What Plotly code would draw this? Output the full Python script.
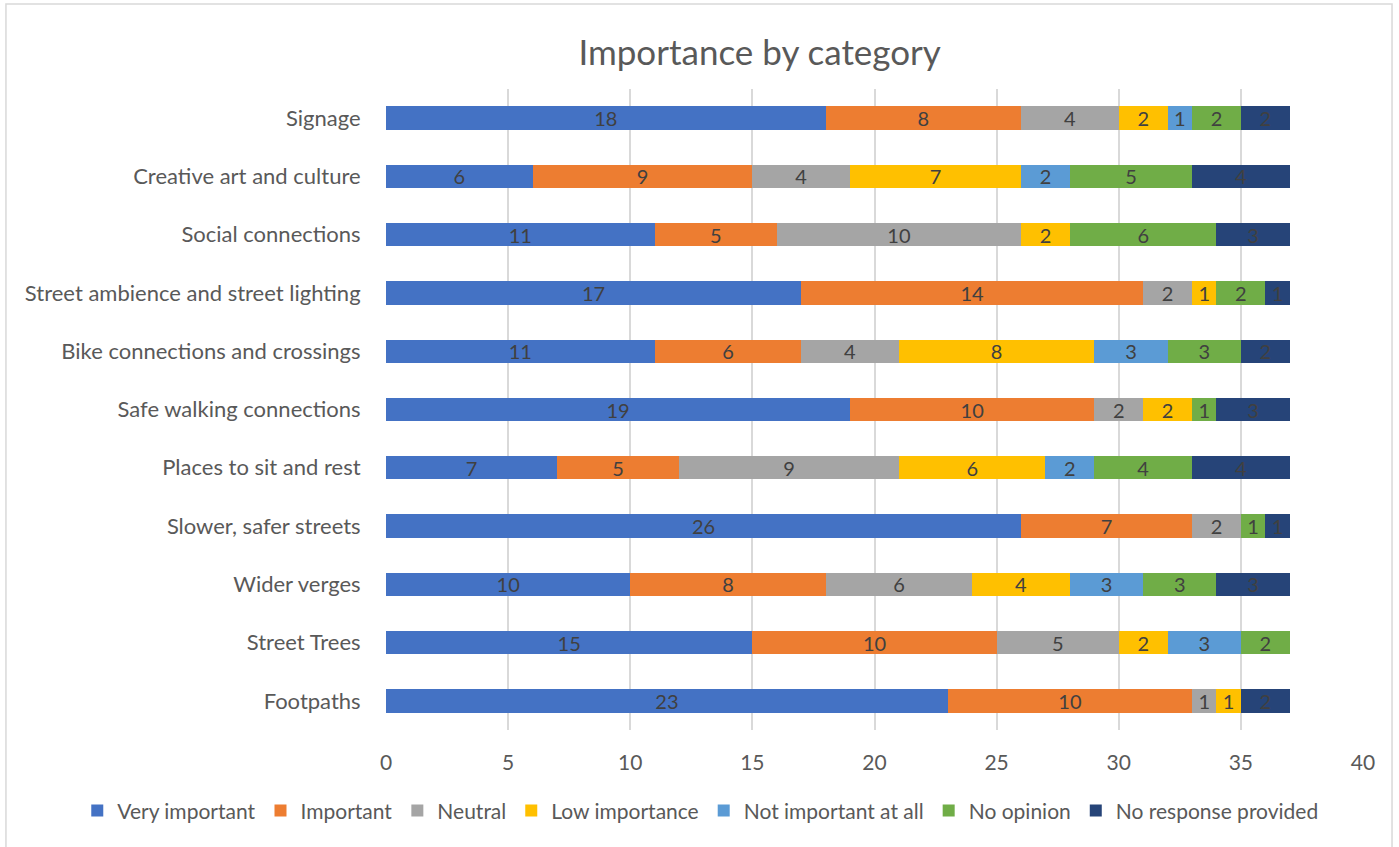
import plotly.graph_objects as go

categories = ["Footpaths", "Street Trees", "Wider verges", "Slower, safer streets",
              "Places to sit and rest", "Safe walking connections",
              "Bike connections and crossings", "Street ambience and street lighting",
              "Social connections", "Creative art and culture", "Signage"]

very_important = [23, 15, 10, 26, 7, 19, 11, 17, 11, 6, 18]
important      = [10, 10, 8, 7, 5, 10, 6, 14, 5, 9, 8]
neutral        = [1, 5, 6, 2, 9, 2, 4, 2, 10, 4, 4]
low_importance = [1, 2, 4, 0, 6, 2, 8, 1, 2, 7, 2]
not_important  = [0, 3, 3, 0, 2, 0, 3, 0, 0, 2, 1]
no_opinion     = [0, 2, 3, 1, 4, 1, 3, 2, 6, 5, 2]
no_response    = [2, 0, 3, 1, 4, 3, 2, 1, 3, 4, 2]

series = [
    ("Very important", very_important, "#4472C4"),
    ("Important", important, "#ED7D31"),
    ("Neutral", neutral, "#A5A5A5"),
    ("Low importance", low_importance, "#FFC000"),
    ("Not important at all", not_important, "#5B9BD5"),
    ("No opinion", no_opinion, "#70AD47"),
    ("No response provided", no_response, "#264478"),
]

FONT = "Lato"
fig = go.Figure()
for name, vals, color in series:
    fig.add_trace(go.Bar(
        y=categories, x=vals, name=name, orientation="h",
        marker=dict(color=color, line=dict(width=0)),
        text=[str(v) if v else "" for v in vals],
        textposition="inside", insidetextanchor="middle", textangle=0,
        textfont=dict(family=FONT, size=20, color="#404040"),
        constraintext="none",
        hoverinfo="x+y+name",
    ))

fig.update_layout(
    barmode="stack",
    bargap=0.6,
    width=1399, height=847,
    paper_bgcolor="white", plot_bgcolor="white",
    margin=dict(l=386, r=36, t=89, b=117, autoexpand=False),
    title=dict(text="Importance by category", x=0.543, xanchor="center", xref="container",
               y=0.938, yanchor="middle", yref="container",
               font=dict(family=FONT, size=35, color="#595959")),
    font=dict(family=FONT, color="#595959"),
    xaxis=dict(range=[0, 40], dtick=5, showgrid=True, gridcolor="#d9d9d9",
               gridwidth=1.5, zeroline=False, showline=False, automargin=False,
               tickfont=dict(family=FONT, size=21, color="#595959"),
               ticks="outside", ticklen=14, tickcolor="rgba(0,0,0,0)"),
    yaxis=dict(showgrid=False, zeroline=False, showline=False, automargin=False,
               tickfont=dict(family=FONT, size=22, color="#595959"),
               ticks="outside", ticklen=20, tickcolor="rgba(0,0,0,0)"),
    legend=dict(orientation="h", xref="paper", x=-0.316, xanchor="left",
                y=-0.126, yanchor="middle",
                font=dict(family=FONT, size=21, color="#595959"),
                itemwidth=30, traceorder="normal", tracegroupgap=0),
    shapes=[dict(type="rect", xref="paper", yref="paper",
                 x0=-0.389, x1=1.0297, y0=-0.19, y1=1.1326,
                 line=dict(color="#d9d9d9", width=1.5), layer="below")],
)

fig.write_html("out.html", config={"displayModeBar": False},
               post_script="document.body.style.margin='0';")
